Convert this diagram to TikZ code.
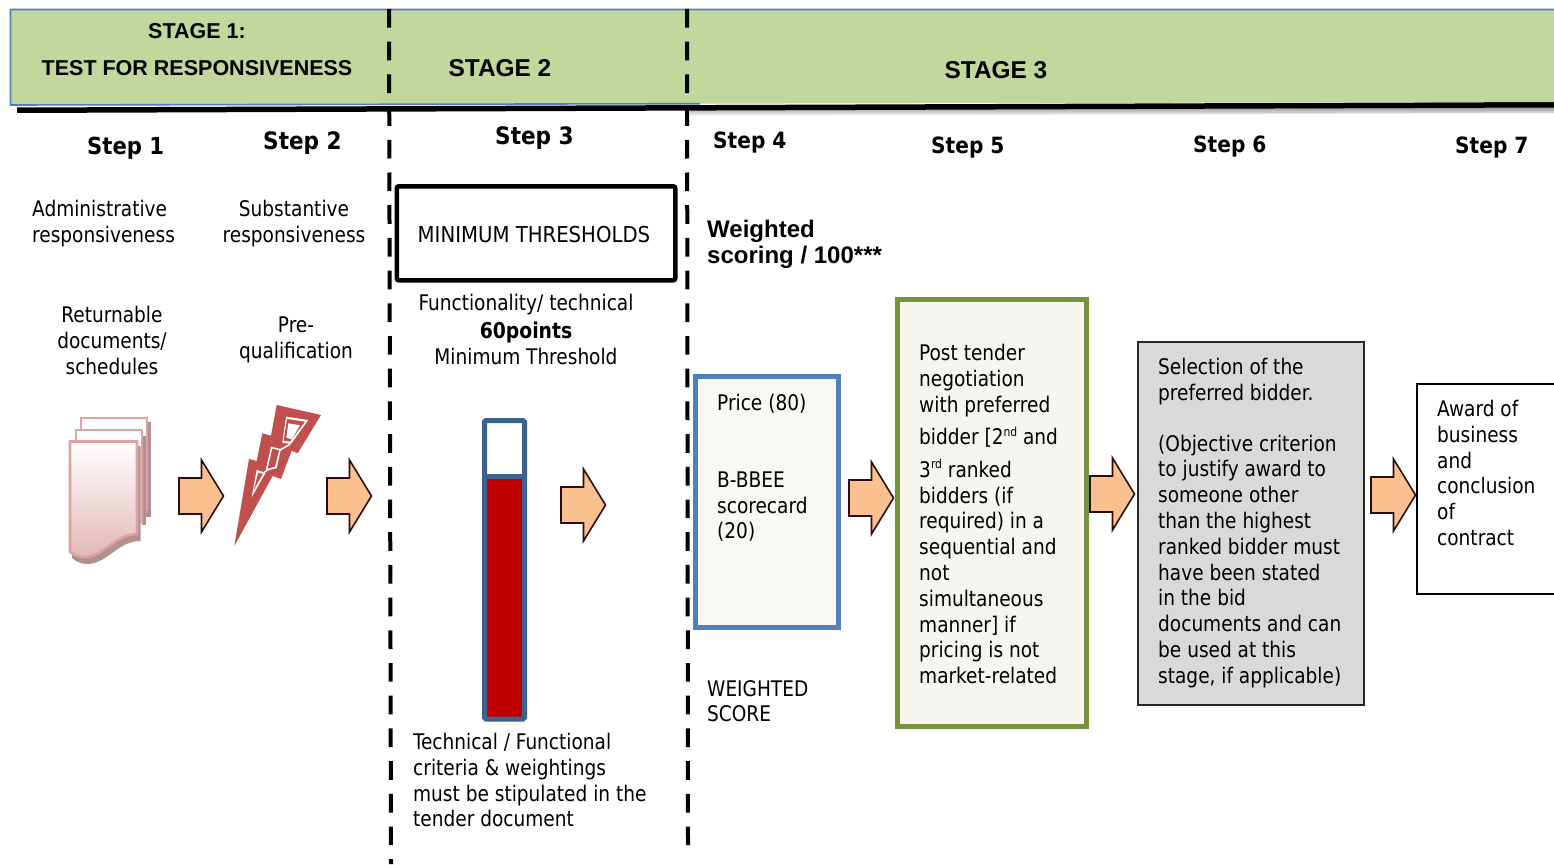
\documentclass[tikz,border=0pt]{standalone}
\usepackage{fontspec}
\setmainfont{DejaVu Sans Condensed}
\newfontfamily\bodyf[FakeStretch=0.958]{DejaVu Sans Condensed}
\newfontfamily\arialf{Liberation Sans}
\usetikzlibrary{shadings}
\definecolor{hdrgreen}{HTML}{C3D69B}
\definecolor{hdrblue}{HTML}{4F81BD}
\definecolor{arrowfill}{HTML}{FAC090}
\definecolor{arrowline}{HTML}{2B0F0F}
\definecolor{barblue}{HTML}{3B6390}
\definecolor{barred}{HTML}{C00000}
\definecolor{boltred}{HTML}{C0504D}
\definecolor{docline}{HTML}{DDA3A3}
\definecolor{docshadow}{HTML}{B39090}
\definecolor{docend}{HTML}{E3B8B8}
\definecolor{greenline}{HTML}{76923C}
\definecolor{cream}{HTML}{F6F5EF}
\definecolor{creamb}{HTML}{F9F8F5}
\definecolor{greyfill}{HTML}{D9D9D9}
\newcommand{\bodysize}{\bodyf\fontsize{21.5}{25.8}\selectfont}
\newcommand{\supr}[1]{\raisebox{8.5pt}[0pt][0pt]{\fontsize{12.5}{12.5}\selectfont #1}}
\tikzset{
  txt/.style={font=\bodysize, inner sep=0pt, anchor=north west, align=left, text=black,
              execute at begin node={\rule{0pt}{17pt}}},
  ctxt/.style={txt, anchor=north, align=center},
  steplabel/.style={font=\fontsize{23.5}{28}\selectfont\bfseries, inner sep=0pt, anchor=base west},
  steplabelb/.style={steplabel, font=\fontsize{22.4}{28}\selectfont\bfseries},
  stagelabel/.style={font=\arialf\fontsize{24.4}{28}\selectfont\bfseries, inner sep=0pt, anchor=base},
  stagelabelb/.style={stagelabel, font=\arialf\fontsize{21.5}{26}\selectfont\bfseries},
  stagedash/.style={line width=4pt, dash pattern=on 18.7pt off 14pt},
  boxnode/.style={inner sep=0pt, anchor=north west},
  blockarrow/.pic={
    \draw[fill=arrowfill, draw=arrowline, line width=1.6pt, miter limit=8]
      (0,-18) -- (22.5,-18) -- (22.5,-36) -- (44.5,0) -- (22.5,36) -- (22.5,18) -- (0,18) -- cycle;
  }
}
\begin{document}
\begin{tikzpicture}[x=1pt,y=-1pt]
\useasboundingbox (0,0) rectangle (1554,864);
% header band
\shade[top color=black!45, bottom color=white] (690,109) -- (1554,106) -- (1554,113) -- (690,116) -- cycle;
\fill[black] (17,107.5) -- (1554,102) -- (1554,107.5) -- (17,113) -- cycle;
\fill[hdrgreen] (10.5,9.5) -- (1560,9.5) -- (1560,102) -- (10.5,105) -- cycle;
\draw[hdrblue, line width=1.6pt] (1560,9.5) -- (10.5,9.5) -- (10.5,105) -- (700,103.7);
% stage separators
\coordinate (d1top) at (389,9);
\coordinate (d1bot) at (391,864);
\coordinate (d2top) at (687,9);
\coordinate (d2bot) at (688,847);
\draw[stagedash] (d1top) -- (d1bot);
\draw[stagedash] (d2top) -- (d2bot);
% stage labels
\node[stagelabelb] (stage1a) at (197,38.5) {STAGE 1:};
\node[stagelabelb] (stage1b) at (197,76) {TEST FOR RESPONSIVENESS};
\node[stagelabel] (stage2) at (500,77) {STAGE 2};
\node[stagelabel] (stage3) at (996,79) {STAGE 3};
% steps
\node[steplabel] (step1) at (87,154) {Step 1};
\node[steplabel, font=\fontsize{24}{28}\selectfont\bfseries] (step2) at (263,149) {Step 2};
\node[steplabel, font=\fontsize{24}{28}\selectfont\bfseries] (step3) at (495,144) {Step 3};
\node[steplabelb] (step4) at (713,148) {Step 4};
\node[steplabelb] (step5) at (931,153) {Step 5};
\node[steplabelb] (step6) at (1193,152) {Step 6};
\node[steplabelb] (step7) at (1455,153) {Step 7};
% column 1,2 text
\node[txt] (admin) at (32,200) {Administrative\\responsiveness};
\node[ctxt] (subst) at (294,200) {Substantive\\responsiveness};
\node[ctxt] (retur) at (112,306) {Returnable\\documents/\\schedules};
\node[ctxt] (prequal) at (296,317) {Pre-\\qualification};
% document icon
\begin{scope}[line width=2.6pt, draw=docline]
  \fill[docshadow] (85,422) rectangle (151,517);
  \draw[fill=white] (81,418) rectangle (147,510);
  \fill[docshadow] (142,436) rectangle (145.5,525);
  \draw[fill=white] (76,430) rectangle (142,522);
  \fill[docshadow] (74,446) -- (140.5,446) -- (140.5,541) .. controls (118,541) and (108,563) .. (88,564)
     .. controls (82,564) and (76,562) .. (72,558) -- cycle;
  \draw[top color=white, bottom color=docend] (70,441.5) -- (137,441.5) -- (137,534)
     .. controls (113,535) and (105,556) .. (85,557) .. controls (79,557) and (74,555) .. (70,552) -- cycle;
\end{scope}
% lightning icon (coordinates are read from a 3x crop)
\begin{scope}[shift={(225,400)},x=0.3333pt,y=-0.3333pt]
  \fill[boltred] (155,15) -- (288,45) -- (218,160) -- (200,152) -- (168,237) -- (143,228)
    -- (28,438) -- (72,177) -- (95,183) -- (112,100) -- (138,107) -- cycle;
  \draw[white, line width=1.5pt] (195,133) -- (165,150) (130,208) -- (112,222);
  \fill[white] (183,50) -- (250,60) -- (198,132) -- (172,128) -- cycle;
  \fill[boltred] (186,57) -- (240,65) -- (195,125) -- (176,122) -- cycle;
  \fill[white] (190,70) -- (225,76) -- (200,118) -- (184,113) -- cycle;
  \fill[white] (138,140) -- (168,147) -- (155,205) -- (122,212) -- cycle;
  \fill[boltred] (142,146) -- (162,151) -- (150,200) -- (128,206) -- cycle;
  \fill[white] (95,210) -- (122,218) -- (80,292) -- cycle;
  \fill[boltred] (100,218) -- (113,222) -- (86,270) -- cycle;
\end{scope}
% block arrows
\pic at (179,496) {blockarrow};
\pic at (327,496) {blockarrow};
\pic at (561,505) {blockarrow};
\pic at (849,498) {blockarrow};
\pic at (1090,494) {blockarrow};
\pic at (1371,495) {blockarrow};
% stage 2
\node[boxnode, draw=black, line width=4.5pt, rounded corners=2pt, minimum width=278.5pt, minimum height=94pt] (minbox) at (394.5,184) {};
\node[font=\fontsize{21.9}{25}\selectfont, inner sep=0pt] (minlabel) at (534,235) {MINIMUM THRESHOLDS};
\node[ctxt] (func) at (526,294) {Functionality/ technical\\[2pt]{\fontsize{21.8}{26}\selectfont\bfseries 60points}\\Minimum Threshold};
% thermometer
\fill[barred] (484.5,476) rectangle (524.5,717.5);
\draw[barblue, line width=5pt, rounded corners=1.5pt] (484.5,420.5) rectangle (524.5,719);
\draw[barblue, line width=5pt] (484.5,476) -- (524.5,476);
\node[txt] (tech) at (413,733) {Technical / Functional\\criteria \& weightings\\must be stipulated in the\\tender document};
% stage 3
\node[txt, font=\arialf\fontsize{24}{26}\selectfont\bfseries] (weighted) at (707,220) {Weighted\\scoring / 100***};
\node[boxnode, draw=hdrblue, fill=creamb, line width=4.5pt, minimum width=143pt, minimum height=251pt] (pricebox) at (693,374) {};
\node[txt] (price) at (717,394) {Price (80)\\[51pt]B-BBEE\\scorecard\\(20)};
\node[txt] (wscore) at (707,680) {WEIGHTED\\SCORE};
\node[boxnode, draw=greenline, fill=cream, line width=5pt, minimum width=189pt, minimum height=427pt] (postbox) at (894.5,296.5) {};
\node[txt] (post) at (919,344) {Post tender\\negotiation\\with preferred\\[7pt]bidder [2\supr{nd} and\\[6.5pt]3\supr{rd} ranked\\bidders (if\\required) in a\\sequential and\\not\\simultaneous\\manner] if\\pricing is not\\market-related};
\node[boxnode, draw=black!85, fill=greyfill, line width=2pt, minimum width=226pt, minimum height=363pt] (selbox) at (1137,341) {};
\node[txt] (sel) at (1158,358) {Selection of the\\preferred bidder.\\[25pt](Objective criterion\\to justify award to\\someone other\\than the highest\\ranked bidder must\\have been stated\\in the bid\\documents and can\\be used at this\\stage, if applicable)};
\node[boxnode, draw=black, fill=white, line width=2pt, minimum width=150pt, minimum height=210pt] (awardbox) at (1416,383) {};
\node[txt] (award) at (1437,400) {Award of\\business\\and\\conclusion\\of\\contract};
\end{tikzpicture}
\end{document}
